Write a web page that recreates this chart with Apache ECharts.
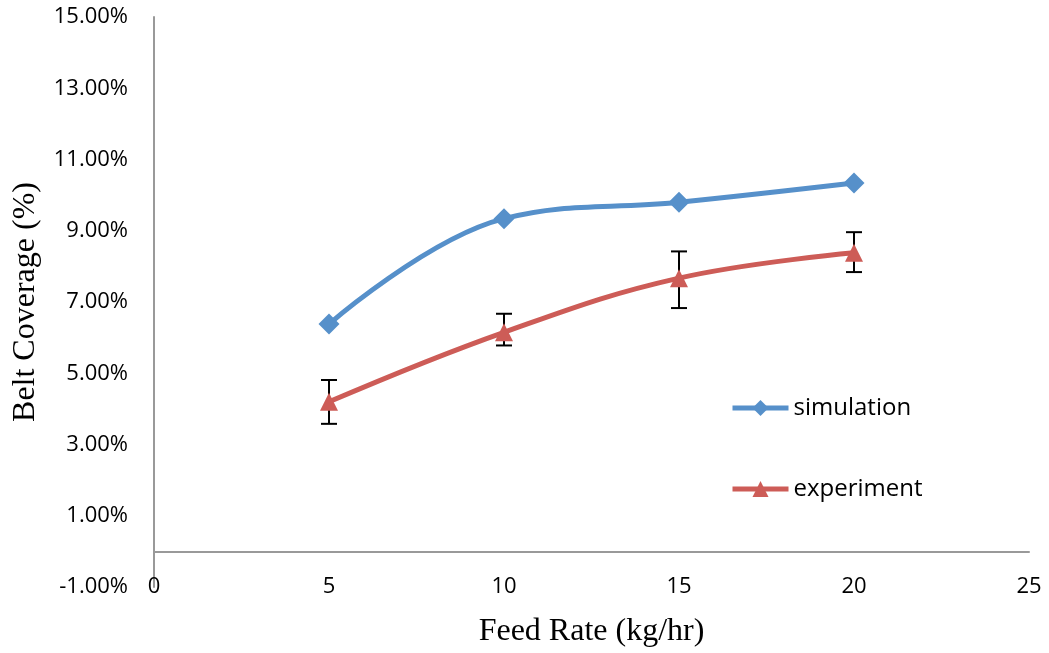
<!DOCTYPE html>
<html>
<head>
<meta charset="utf-8">
<script src="https://cdn.jsdelivr.net/npm/echarts@6/dist/echarts.min.js"></script>
<style>html,body{margin:0;padding:0;background:#fff}#c{width:1049px;height:653px}</style>
</head>
<body>
<div id="c"></div>
<script>
// Feed rate (kg/hr)
var feedRates = [5, 10, 15, 20];
// Belt coverage (%)
var simulation = [6.38, 9.34, 9.80, 10.34];
var experiment = [4.20, 6.15, 7.67, 8.38];
var errLow = [3.58, 5.78, 6.83, 7.84];
var errHigh = [4.81, 6.67, 8.42, 8.96];
var xTicks = [0, 5, 10, 15, 20, 25];
var yTicks = [-1, 1, 3, 5, 7, 9, 11, 13, 15];

var chart = echarts.init(document.getElementById('c'), null, {renderer: 'canvas'});
var labelFont = {fontFamily: 'Open Sans', fontSize: 22, color: '#000'};
var titleFont = {fontFamily: 'Liberation Serif', fontSize: 32, color: '#000'};

var errData = feedRates.map(function (x, i) { return [x, errLow[i], errHigh[i]]; });

chart.setOption({
  animation: false,
  backgroundColor: '#fff',
  grid: {left: 154, right: 20, top: 17, bottom: 65, containLabel: false},
  legend: {
    orient: 'vertical', left: 725, top: 391,
    itemWidth: 56, itemHeight: 20, itemGap: 57,
    lineStyle: {width: 5},
    textStyle: {fontFamily: 'Open Sans', fontSize: 24, color: '#000'},
    data: ['simulation', 'experiment']
  },
  xAxis: [{
    type: 'value', min: xTicks[0], max: xTicks[xTicks.length - 1], interval: 5,
    name: 'Feed Rate (kg/hr)', nameLocation: 'middle', nameGap: 29, nameTextStyle: titleFont,
    axisLine: {show: false, onZero: false}, axisTick: {show: false}, splitLine: {show: false},
    axisLabel: Object.assign({margin: -11}, labelFont)
  }, {
    type: 'value', min: xTicks[0], max: xTicks[xTicks.length - 1], interval: 5, position: 'bottom',
    axisLine: {show: true, onZero: true, lineStyle: {color: '#999', width: 2}},
    axisTick: {show: false}, axisLabel: {show: false}, splitLine: {show: false}
  }],
  yAxis: {
    type: 'value', min: yTicks[0], max: yTicks[yTicks.length - 1], interval: 2,
    name: 'Belt Coverage (%)', nameLocation: 'middle', nameGap: 112, nameTextStyle: titleFont,
    axisLine: {show: true, onZero: true, lineStyle: {color: '#999', width: 2}},
    axisTick: {show: false}, splitLine: {show: false},
    axisLabel: Object.assign({margin: 26, formatter: function (v) { return v.toFixed(2) + '%'; }}, labelFont)
  },
  series: [{
    name: 'simulation', type: 'line', smooth: 0.4,
    data: feedRates.map(function (x, i) { return [x, simulation[i]]; }),
    symbol: 'diamond', symbolSize: 21,
    lineStyle: {width: 5, color: '#5690CA'}, itemStyle: {color: '#5690CA'}
  }, {
    name: 'experiment', type: 'line', smooth: 0.4,
    data: feedRates.map(function (x, i) { return [x, experiment[i]]; }),
    symbol: 'triangle', symbolSize: 18,
    lineStyle: {width: 5, color: '#CD5C57'}, itemStyle: {color: '#CD5C57'}
  }, {
    name: 'err', type: 'custom', z: 1,
    data: errData,
    renderItem: function (params, api) {
      var x = api.value(0);
      var lo = api.coord([x, api.value(1)]);
      var hi = api.coord([x, api.value(2)]);
      var w = 8;
      var st = {stroke: '#000', lineWidth: 2};
      return {type: 'group', children: [
        {type: 'line', shape: {x1: lo[0], y1: lo[1], x2: hi[0], y2: hi[1]}, style: st},
        {type: 'line', shape: {x1: lo[0] - w, y1: lo[1], x2: lo[0] + w, y2: lo[1]}, style: st},
        {type: 'line', shape: {x1: hi[0] - w, y1: hi[1], x2: hi[0] + w, y2: hi[1]}, style: st}
      ]};
    },
    encode: {x: 0, y: [1, 2]}
  }]
});
</script>
</body>
</html>
